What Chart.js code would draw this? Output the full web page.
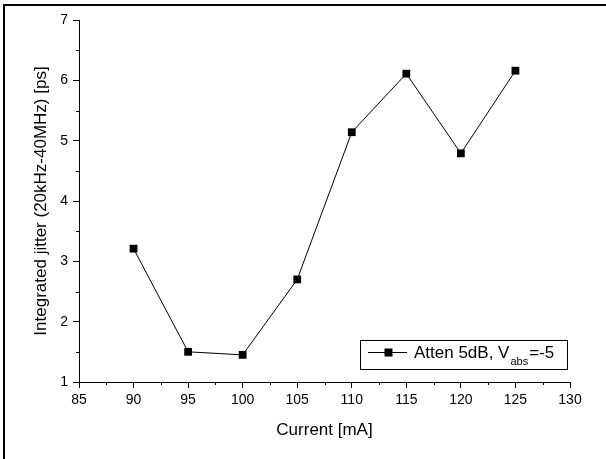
<!DOCTYPE html>
<html>
<head>
<meta charset="utf-8">
<script src="https://cdn.jsdelivr.net/npm/chart.js@4/dist/chart.umd.min.js"></script>
<style>
  html, body { margin: 0; padding: 0; background: #fff; }
  #wrap { position: relative; width: 606px; height: 459px; overflow: hidden; }
  #frame { position: absolute; left: 3px; top: 4px; right: -5px; bottom: -5px;
           border-top: 2px solid #000; border-left: 2px solid #000; }
  canvas { position: absolute; left: 0; top: 0; }
</style>
</head>
<body>
<div id="wrap">
  <canvas id="JitterChart" width="606" height="459"></canvas>
  <div id="frame"></div>
</div>
<script>
//
// Data
var current_ma = [90, 95, 100, 105, 110, 115, 120, 125];
var jitter_ps = [3.21, 1.50, 1.45, 2.70, 5.14, 6.11, 4.79, 6.16];
var x_ticks = [85, 90, 95, 100, 105, 110, 115, 120, 125, 130];
var y_ticks = [1, 2, 3, 4, 5, 6, 7];
var series_name = 'Atten 5dB, V';
var series_sub = 'abs';
var series_tail = '=-5';

var font_family = "'Liberation Sans', Arial, sans-serif";

//
// Minor ticks (half steps) drawn through the scales
var minorTicks = {
  id: 'minorTicks',
  afterDraw: function(chart){
    var ctx = chart.ctx;
    var xs = chart.scales.x, ys = chart.scales.y;
    var area = chart.chartArea;
    ctx.save();
    ctx.strokeStyle = '#000';
    ctx.lineWidth = 1;
    ctx.beginPath();
    for (var i = 0; i < x_ticks.length - 1; i++) {
      var px = Math.round(xs.getPixelForValue((x_ticks[i] + x_ticks[i + 1]) / 2)) + 0.5;
      ctx.moveTo(px, area.bottom);
      ctx.lineTo(px, area.bottom + 3);
    }
    for (var j = 0; j < y_ticks.length - 1; j++) {
      var py = Math.round(ys.getPixelForValue((y_ticks[j] + y_ticks[j + 1]) / 2)) + 0.5;
      ctx.moveTo(area.left, py);
      ctx.lineTo(area.left - 3, py);
    }
    ctx.stroke();
    ctx.restore();
  }
};

//
// Legend box with subscript
var boxLegend = {
  id: 'boxLegend',
  afterDraw: function(chart){
    var ctx = chart.ctx;
    var ds = chart.data.datasets[0];
    ctx.save();
    ctx.strokeStyle = '#000';
    ctx.lineWidth = 1;
    ctx.strokeRect(360.5, 340.5, 207, 29);

    ctx.strokeStyle = ds.borderColor;
    ctx.beginPath();
    ctx.moveTo(368, 352.5);
    ctx.lineTo(407, 352.5);
    ctx.stroke();
    ctx.fillStyle = ds.pointBackgroundColor;
    ctx.fillRect(384.5, 348.5, 8, 8);

    ctx.fillStyle = '#000';
    ctx.textBaseline = 'alphabetic';
    ctx.font = '17px ' + font_family;
    var x = 414;
    ctx.fillText(series_name, x, 358);
    x += ctx.measureText(series_name).width + 1;
    ctx.font = '11px ' + font_family;
    ctx.fillText(series_sub, x, 365);
    x += ctx.measureText(series_sub).width + 1;
    ctx.font = '17px ' + font_family;
    ctx.fillText(series_tail, x, 358);
    ctx.restore();
  }
};

var ctx = document.getElementById('JitterChart').getContext('2d');

new Chart(ctx, {
  type: 'line',
  data: {
    datasets: [{
      data: current_ma.map(function(c, i){ return { x: c, y: jitter_ps[i] }; }),
      borderColor: '#000',
      borderWidth: 1,
      pointStyle: 'rect',
      pointRadius: 5.5,
      pointBorderWidth: 0,
      pointBackgroundColor: '#000',
      tension: 0,
      fill: false
    }]
  },
  options: {
    responsive: false,
    animation: false,
    devicePixelRatio: 1,
    layout: { padding: { left: 0, top: 20, right: 36, bottom: 0 } },
    plugins: { legend: { display: false }, tooltip: { enabled: false } },
    scales: {
      x: {
        type: 'linear',
        min: 85,
        max: 130,
        afterFit: function(scale){ scale.height = 77; },
        afterBuildTicks: function(scale){ scale.ticks = x_ticks.map(function(v){ return { value: v }; }); },
        border: { display: true, color: '#000', width: 1 },
        grid: { drawOnChartArea: false, tickLength: 6, color: '#000', tickColor: '#000' },
        ticks: { color: '#000', padding: 4, maxRotation: 0, font: { family: font_family, size: 14 } },
        title: {
          display: true,
          text: 'Current [mA]',
          color: '#000',
          padding: { top: 0, bottom: 18 },
          font: { family: font_family, size: 17 }
        }
      },
      y: {
        type: 'linear',
        min: 1,
        max: 7,
        afterFit: function(scale){ scale.width = 79; },
        afterBuildTicks: function(scale){ scale.ticks = y_ticks.map(function(v){ return { value: v }; }); },
        border: { display: true, color: '#000', width: 1 },
        grid: { drawOnChartArea: false, tickLength: 6, color: '#000', tickColor: '#000' },
        ticks: { color: '#000', padding: 5, font: { family: font_family, size: 14 } },
        title: {
          display: true,
          text: 'Integrated jitter (20kHz-40MHz) [ps]',
          color: '#000',
          padding: { top: 31, bottom: 0 },
          font: { family: font_family, size: 17 }
        }
      }
    }
  },
  plugins: [minorTicks, boxLegend]
});
</script>
</body>
</html>
